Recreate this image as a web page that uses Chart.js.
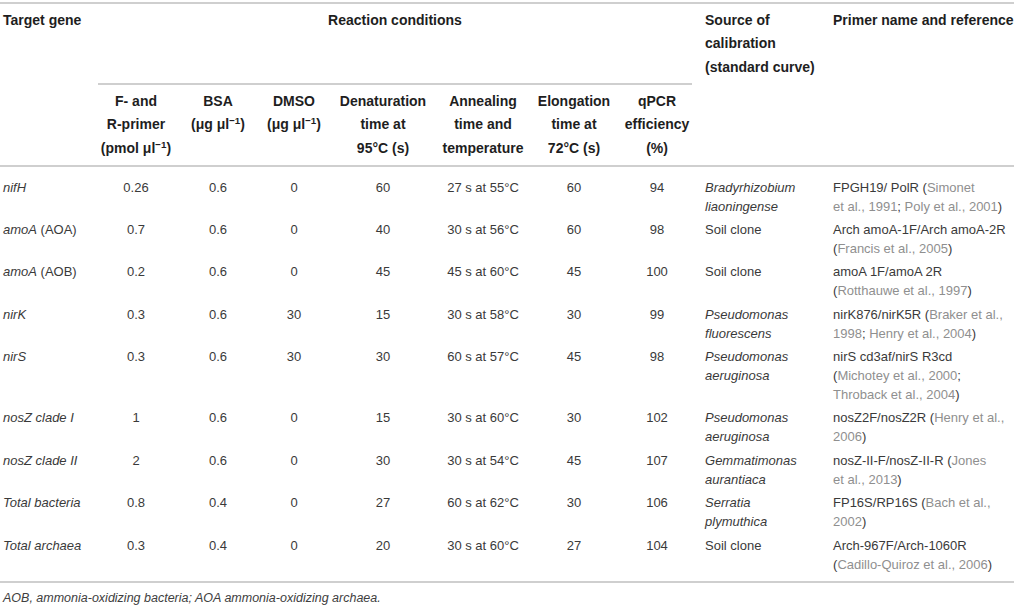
<!DOCTYPE html>
<html>
<head>
<meta charset="utf-8">
<script src="https://cdn.jsdelivr.net/npm/chart.js@4.4.0/dist/chart.umd.min.js"></script>
<style>
  html, body { margin: 0; padding: 0; background: #fff; }
  body { width: 1017px; height: 606px; overflow: hidden; font-family: "Liberation Sans", Arial, sans-serif; }
  table { position: absolute; left: 0; top: 2px; width: 1014px; border-collapse: collapse; table-layout: fixed; }
  td, th { padding: 0; vertical-align: top; }
  thead th { font-weight: bold; font-size: 14px; line-height: 23.5px; color: #1e1e1e; }
  thead tr.r1 th { padding-top: 4.5px; border-top: 2px solid #cfcfcf; }
  thead tr.r1 th.rc { height: 74px; border-bottom: 2px solid #cfcfcf; text-align: center; }
  thead tr.r2 th { padding-top: 5px; padding-bottom: 5px; text-align: center; border-bottom: 2px solid #cfcfcf; }
  thead th.l { text-align: left; border-bottom: 2px solid #cfcfcf; }
  tbody td { font-size: 13px; line-height: 19px; color: #3a3a3a; padding-top: 2px; padding-bottom: 2.4px; }
  tbody td.c { text-align: center; }
  tbody td.l { text-align: left; }
  .ref { color: #8f8f8f; }
  tr.sp td { padding: 0; height: 8.5px; line-height: 0; font-size: 0; }
  tr.spb td { padding: 0; height: 5px; line-height: 0; font-size: 0; border-bottom: 2px solid #cfcfcf; }
  .p0 { padding-left: 3px; }
  .p8 { padding-left: 13px; }
  .p9 { padding-left: 3px; }
  sup { font-size: 70%; line-height: 0; vertical-align: 0.55em; }
  #foot { position: absolute; left: 3px; top: 589px; font-size: 12.5px; font-style: italic; color: #404040; line-height: 18px; }
  #c { position: absolute; left: 0; top: 0; width: 1px; height: 1px; }
</style>
</head>
<body>
<canvas id="c"></canvas>
<table id="t">
  <colgroup>
    <col style="width:98px"><col style="width:76px"><col style="width:88px"><col style="width:64px">
    <col style="width:114px"><col style="width:86px"><col style="width:96px"><col style="width:70px">
    <col style="width:138px"><col style="width:184px">
  </colgroup>
  <thead id="th"></thead>
  <tbody id="tb"></tbody>
</table>
<div id="foot"></div>
<script>
// ---- data ----
const groupHeaders = ["Target gene", "Reaction conditions", "Source of<br>calibration<br>(standard curve)", "Primer name and reference"];
const subHeaders = [
  "F- and<br>R-primer<br>(pmol μl<sup>−1</sup>)",
  "BSA<br>(μg μl<sup>−1</sup>)",
  "DMSO<br>(μg μl<sup>−1</sup>)",
  "Denaturation<br>time at<br>95°C (s)",
  "Annealing<br>time and<br>temperature",
  "Elongation<br>time at<br>72°C (s)",
  "qPCR<br>efficiency<br>(%)"
];
const genes = ["<i>nifH</i>", "<i>amoA</i> (AOA)", "<i>amoA</i> (AOB)", "<i>nirK</i>", "<i>nirS</i>",
  "<i>nosZ clade I</i>", "<i>nosZ clade II</i>", "<i>Total bacteria</i>", "<i>Total archaea</i>"];
const primerConc = ["0.26", "0.7", "0.2", "0.3", "0.3", "1", "2", "0.8", "0.3"];
const bsa = ["0.6", "0.6", "0.6", "0.6", "0.6", "0.6", "0.6", "0.4", "0.4"];
const dmso = ["0", "0", "0", "30", "30", "0", "0", "0", "0"];
const denaturation = ["60", "40", "45", "15", "30", "15", "30", "27", "20"];
const annealing = ["27 s at 55°C", "30 s at 56°C", "45 s at 60°C", "30 s at 58°C", "60 s at 57°C",
  "30 s at 60°C", "30 s at 54°C", "60 s at 62°C", "30 s at 60°C"];
const elongation = ["60", "60", "45", "30", "45", "30", "45", "30", "27"];
const efficiency = ["94", "98", "100", "99", "98", "102", "107", "106", "104"];
const calibration = ["<i>Bradyrhizobium<br>liaoningense</i>", "Soil clone", "Soil clone",
  "<i>Pseudomonas<br>fluorescens</i>", "<i>Pseudomonas<br>aeruginosa</i>", "<i>Pseudomonas<br>aeruginosa</i>",
  "<i>Gemmatimonas<br>aurantiaca</i>", "<i>Serratia<br>plymuthica</i>", "Soil clone"];
// [[...]] marks citation text (shown in grey)
const primerRefs = [
  "FPGH19/ PolR ([[Simonet<br>et al., 1991]]; [[Poly et al., 2001]])",
  "Arch amoA-1F/Arch amoA-2R<br>([[Francis et al., 2005]])",
  "amoA 1F/amoA 2R<br>([[Rotthauwe et al., 1997]])",
  "nirK876/nirK5R ([[Braker et al.,<br>1998]]; [[Henry et al., 2004]])",
  "nirS cd3af/nirS R3cd<br>([[Michotey et al., 2000]];<br>[[Throback et al., 2004]])",
  "nosZ2F/nosZ2R ([[Henry et al.,<br>2006]])",
  "nosZ-II-F/nosZ-II-R ([[Jones<br>et al., 2013]])",
  "FP16S/RP16S ([[Bach et al.,<br>2002]])",
  "Arch-967F/Arch-1060R<br>([[Cadillo-Quiroz et al., 2006]])"
];
const footnote = "AOB, ammonia-oxidizing bacteria; AOA ammonia-oxidizing archaea.";

// ---- build ----
const th = document.getElementById("th");
th.innerHTML =
  '<tr class="r1">' +
  '<th rowspan="2" class="l p0">' + groupHeaders[0] + '</th>' +
  '<th colspan="7" class="rc">' + groupHeaders[1] + '</th>' +
  '<th rowspan="2" class="l p8">' + groupHeaders[2] + '</th>' +
  '<th rowspan="2" class="l p9">' + groupHeaders[3] + '</th>' +
  '</tr><tr class="r2">' + subHeaders.map(s => '<th>' + s + '</th>').join("") + '</tr>';

function refHtml(s) {
  // split grey spans across <br> so each segment is wrapped
  return s.replace(/\[\[(.*?)\]\]/g, (m, inner) =>
    inner.split("<br>").map(p => '<span class="ref">' + p + '</span>').join("<br>"));
}
let rows = '<tr class="sp"><td colspan="10"></td></tr>';
genes.forEach((g, i) => {
  rows += '<tr>' +
    '<td class="l p0">' + g + '</td>' +
    '<td class="c">' + primerConc[i] + '</td>' +
    '<td class="c">' + bsa[i] + '</td>' +
    '<td class="c">' + dmso[i] + '</td>' +
    '<td class="c">' + denaturation[i] + '</td>' +
    '<td class="c">' + annealing[i] + '</td>' +
    '<td class="c">' + elongation[i] + '</td>' +
    '<td class="c">' + efficiency[i] + '</td>' +
    '<td class="l p8">' + calibration[i] + '</td>' +
    '<td class="l p9">' + refHtml(primerRefs[i]) + '</td>' +
    '</tr>';
});
rows += '<tr class="spb"><td colspan="10"></td></tr>';
document.getElementById("tb").innerHTML = rows;
document.getElementById("foot").textContent = footnote;

// Chart.js instance (tiny, invisible) so the library is initialised
try {
  new Chart(document.getElementById("c"), {
    type: "bar",
    data: { labels: genes.map(g => g.replace(/<[^>]+>/g, "")), datasets: [{ data: efficiency.map(Number), backgroundColor: "rgba(0,0,0,0)" }] },
    options: { responsive: false, animation: false, plugins: { legend: { display: false }, tooltip: { enabled: false } }, scales: { x: { display: false }, y: { display: false } } }
  });
} catch (e) {}
</script>
</body>
</html>
